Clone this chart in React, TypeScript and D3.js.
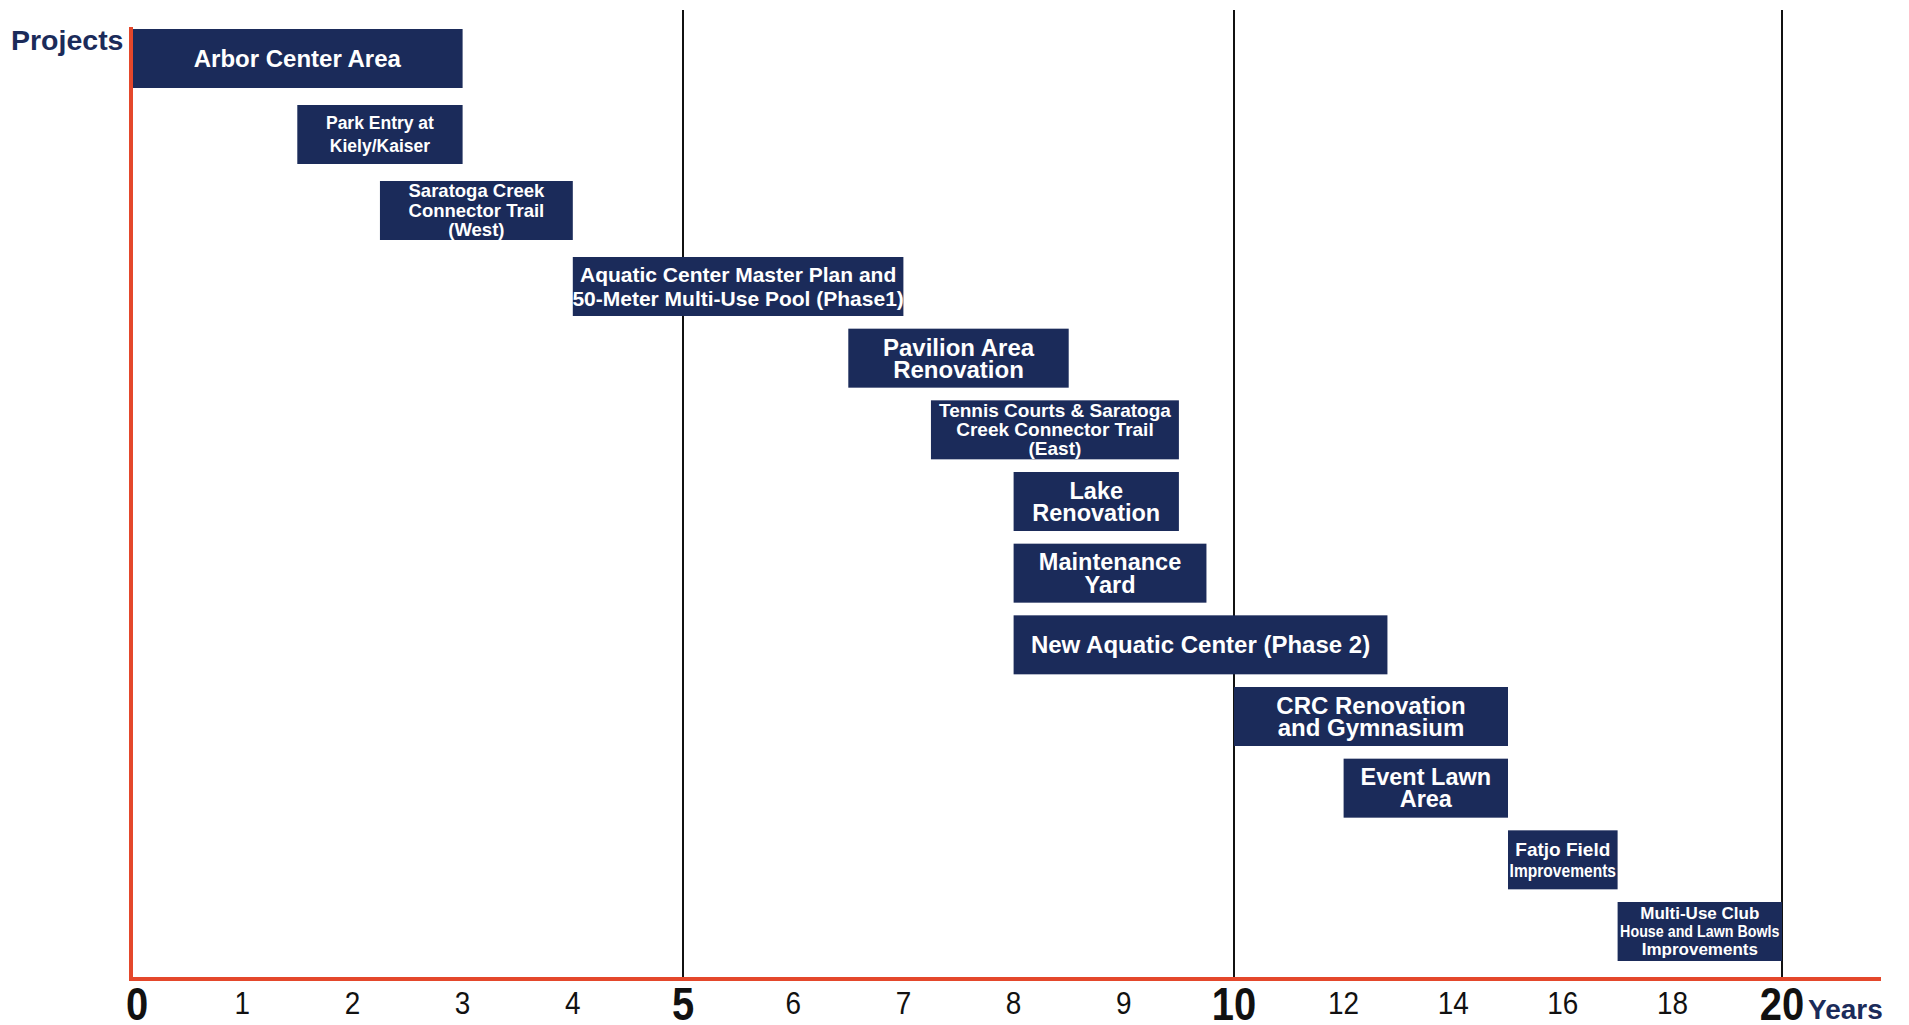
import { useEffect, useRef } from 'react';
import * as d3 from 'd3';

const projects = [
  'Arbor Center Area',
  'Park Entry at\nKiely/Kaiser',
  'Saratoga Creek\nConnector Trail\n(West)',
  'Aquatic Center Master Plan and\n50-Meter Multi-Use Pool (Phase1)',
  'Pavilion Area\nRenovation',
  'Tennis Courts & Saratoga\nCreek Connector Trail\n(East)',
  'Lake\nRenovation',
  'Maintenance\nYard',
  'New Aquatic Center (Phase 2)',
  'CRC Renovation\nand Gymnasium',
  'Event Lawn\nArea',
  'Fatjo Field\nImprovements',
  'Multi-Use Club\nHouse and Lawn Bowls\nImprovements',
];
const startYear = [0, 1.5, 2.25, 4, 6.5, 7.25, 8, 8, 8, 10, 12, 15, 17];
const endYear = [3, 3, 4, 7, 8.5, 9.5, 9.5, 9.75, 12.8, 15, 15, 17, 20];

const tickYears = [0, 1, 2, 3, 4, 5, 6, 7, 8, 9, 10, 12, 14, 16, 18, 20];
const majorYears = [0, 5, 10, 20];
const dividerYears = [5, 10, 20];

// label styling, one entry per project
const labelSize = [24, 17.5, 18.5, 21, 24, 19, 23.5, 23.5, 24, 24, 23.5, 19, 17];
const labelLead = [0, 23, 19.5, 24, 22, 19, 22, 23, 0, 22, 22, 21, 18];
const labelSqueeze = [[1], [1, 1], [1, 1, 1], [1, 1], [1, 1], [1, 1, 1], [1, 1], [1, 1], [1], [1, 1], [1, 1], [1, 0.82], [1, 0.84, 1]];

const NAVY = '#1b2b5a';
const RED = '#e4472b';
const FONT = '"Liberation Sans", Arial, sans-serif';

export default function App() {
  const ref = useRef<SVGSVGElement>(null);

  useEffect(() => {
    if (!ref.current) return;
    const W = 1909, H = 1025;
    const svg = d3.select(ref.current).attr('width', W).attr('height', H);
    svg.selectAll('*').remove();

    const x = d3.scaleLinear().domain([0, 10, 20]).range([132, 1234, 1782]);
    // rows are a touch further apart at the top than lower down
    const y = d3.scaleLinear().domain([0, 3, projects.length - 1]).range([29, 257, 902]);
    const barH = 59;
    const axisY = 979;

    // divider lines at 5, 10, 20 years
    svg.append('g').selectAll('line').data(dividerYears).join('line')
      .attr('x1', d => x(d)).attr('x2', d => x(d))
      .attr('y1', 10).attr('y2', axisY)
      .attr('stroke', '#111').attr('stroke-width', 2);

    // bars
    const bars = svg.append('g');
    projects.forEach((p, i) => {
      const x0 = x(startYear[i]), x1 = x(endYear[i]);
      const yy = y(i);
      bars.append('rect').attr('x', x0).attr('y', yy).attr('width', x1 - x0).attr('height', barH)
        .attr('fill', NAVY);
      const lines = p.split('\n');
      const cx = (x0 + x1) / 2, cy = yy + barH / 2;
      const fs = labelSize[i], lh = labelLead[i];
      lines.forEach((ln, j) => {
        const by = cy + (j - (lines.length - 1) / 2) * lh + fs * 0.35;
        bars.append('text')
          .attr('transform', `translate(${cx},${by}) scale(${labelSqueeze[i][j] ?? 1},1)`)
          .attr('text-anchor', 'middle')
          .attr('font-family', FONT).attr('font-weight', 'bold')
          .attr('font-size', fs).attr('fill', '#fff')
          .text(ln);
      });
    });

    // red axes
    svg.append('line').attr('x1', 131).attr('x2', 131).attr('y1', 27).attr('y2', axisY + 2)
      .attr('stroke', RED).attr('stroke-width', 4);
    svg.append('line').attr('x1', 129).attr('x2', 1881).attr('y1', axisY).attr('y2', axisY)
      .attr('stroke', RED).attr('stroke-width', 4);

    // tick labels, narrow and tall like the original
    svg.append('g').selectAll('text').data(tickYears).join('text')
      .attr('transform', d => {
        const major = majorYears.includes(d);
        return `translate(${x(d) + (d === 0 ? 5 : 0)},${major ? 1020 : 1014}) scale(${major ? 0.85 : 0.9},1)`;
      })
      .attr('text-anchor', 'middle')
      .attr('font-family', FONT)
      .attr('font-weight', d => majorYears.includes(d) ? 'bold' : 'normal')
      .attr('font-size', d => majorYears.includes(d) ? 47 : 31)
      .attr('fill', '#111')
      .text(d => d);

    svg.append('text').attr('x', 11).attr('y', 50)
      .attr('font-family', FONT).attr('font-weight', 'bold').attr('font-size', 28.5)
      .attr('fill', NAVY).text('Projects');
    svg.append('text').attr('x', 1808).attr('y', 1019)
      .attr('font-family', FONT).attr('font-weight', 'bold').attr('font-size', 28)
      .attr('fill', NAVY).text('Years');
  }, []);

  return (
    <div style={{ position: 'absolute', left: 0, top: 0, width: 1909, height: 1025, background: '#fff' }}>
      <svg ref={ref} style={{ display: 'block' }} />
    </div>
  );
}
